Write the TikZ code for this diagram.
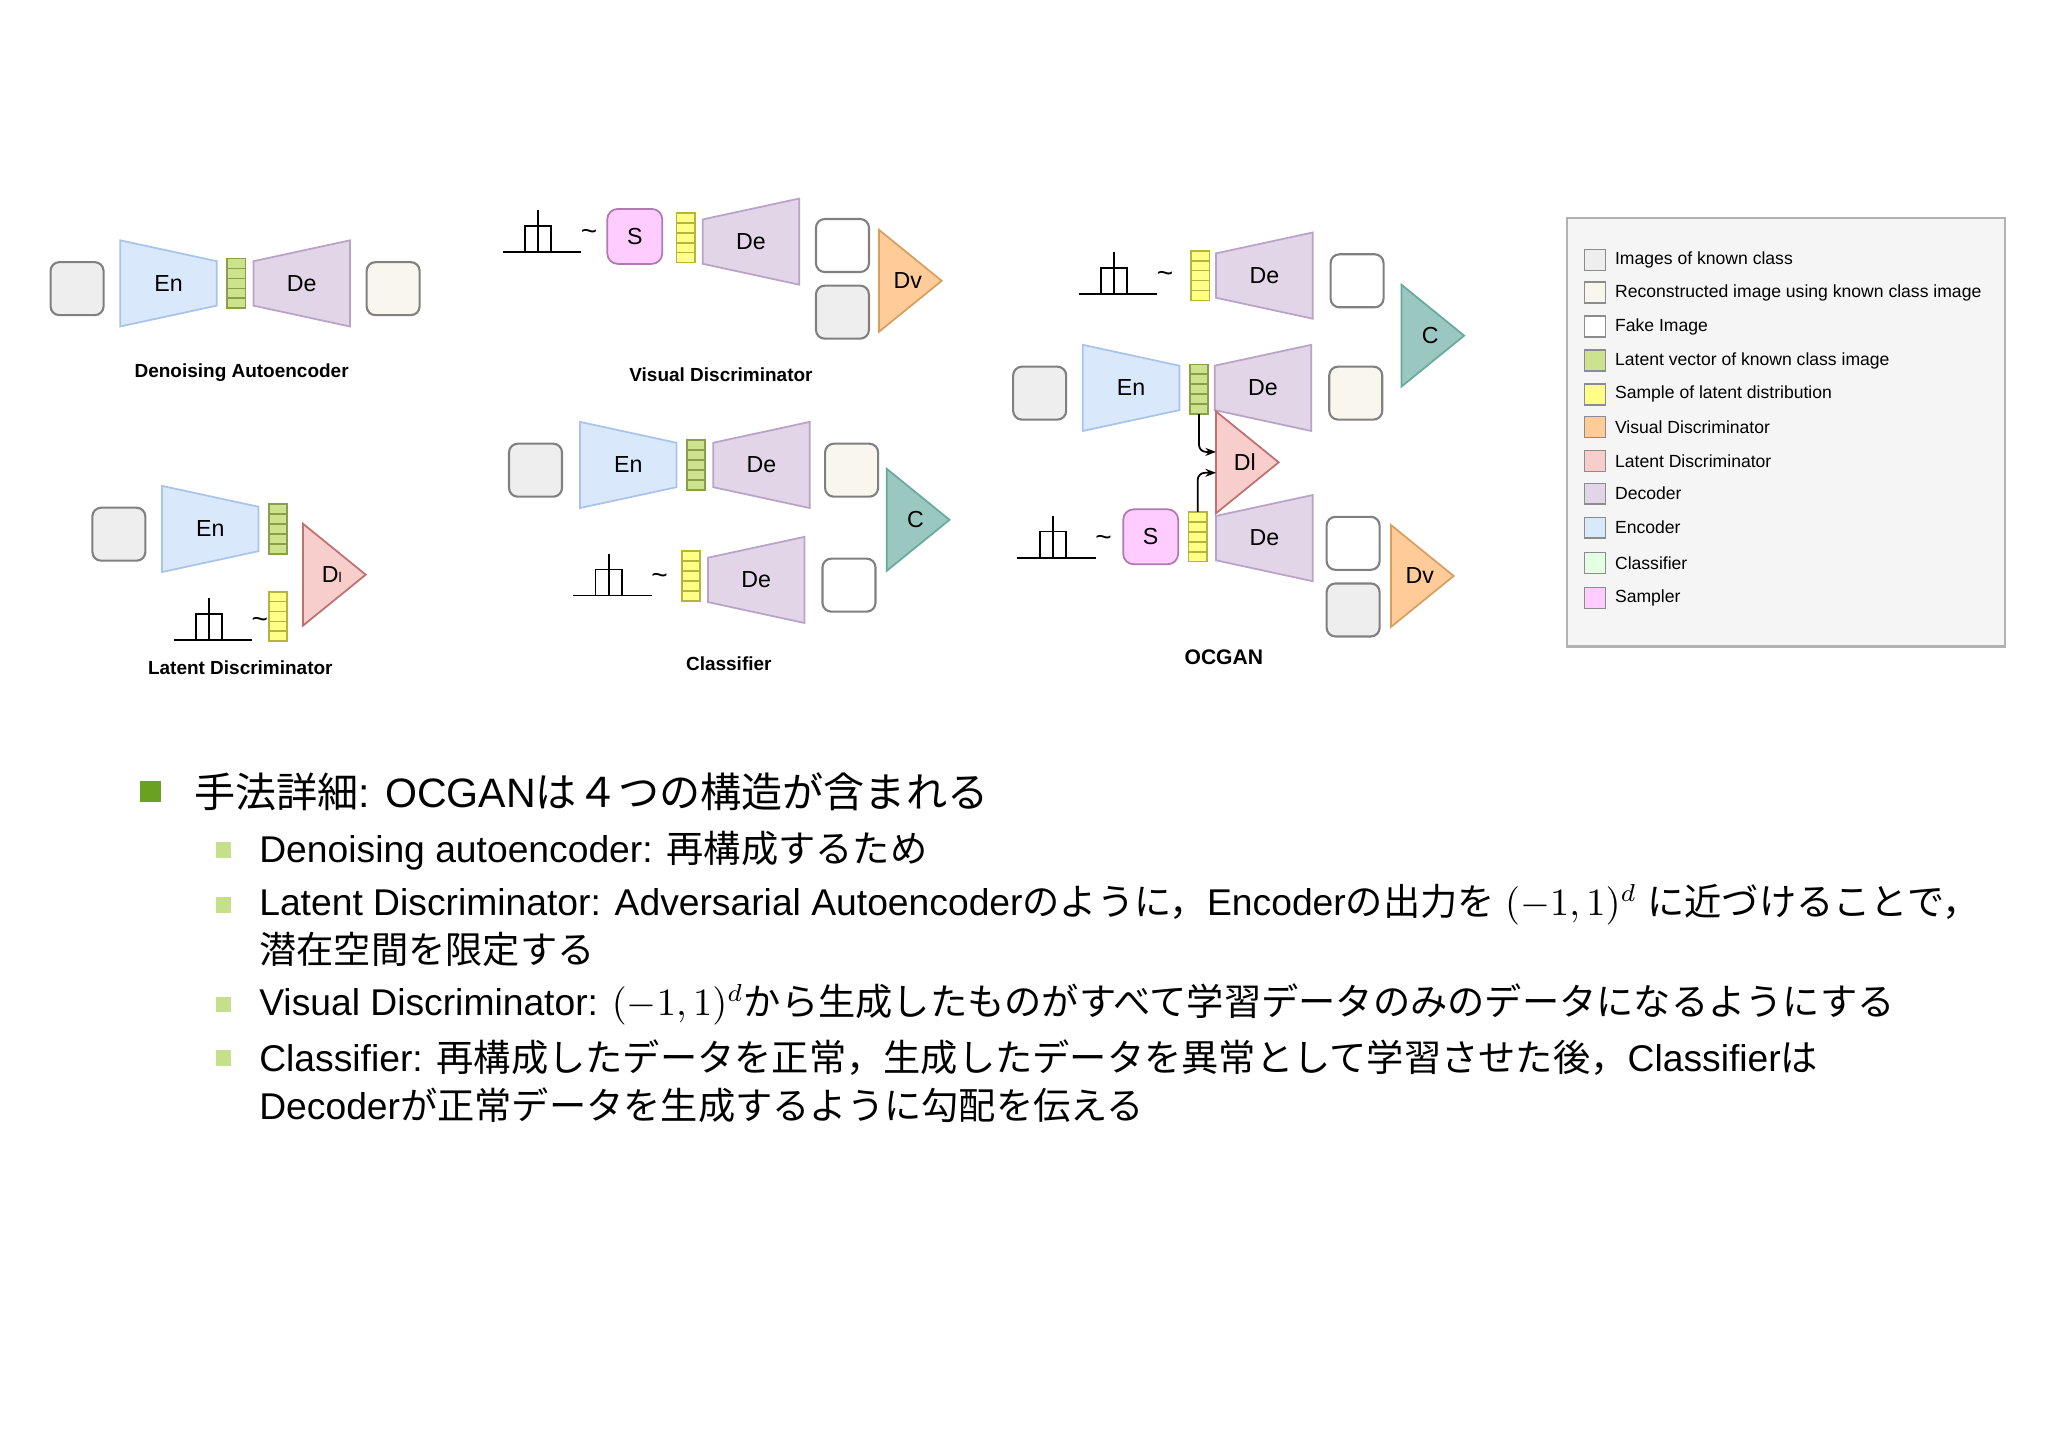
\documentclass[tikz,border=0pt]{standalone}
\usepackage{fontspec}
\setmainfont{Liberation Sans}
\newfontfamily\cjk{Noto Sans CJK JP}
\newcommand\ja[1]{{\cjk #1}}
\usetikzlibrary{arrows.meta}
\definecolor{enF}{HTML}{DAE8FC}\definecolor{enD}{HTML}{A9C4EB}
\definecolor{deF}{HTML}{E1D5E7}\definecolor{deD}{HTML}{B9A3C6}
\definecolor{grF}{HTML}{CDE28C}\definecolor{grD}{HTML}{8AA048}
\definecolor{yeF}{HTML}{FFFF88}\definecolor{yeD}{HTML}{B5B53C}
\definecolor{dvF}{HTML}{FFCC99}\definecolor{dvD}{HTML}{D8A060}
\definecolor{dlF}{HTML}{F8CECC}\definecolor{dlD}{HTML}{C07070}
\definecolor{cF}{HTML}{9AC7BF}\definecolor{cD}{HTML}{67AB9F}
\definecolor{sF}{HTML}{FFCCFF}\definecolor{sD}{HTML}{B07AB0}
\definecolor{gyF}{HTML}{EEEEEE}\definecolor{crF}{HTML}{F9F7ED}
\definecolor{bul}{HTML}{6AA121}\definecolor{bul2}{HTML}{C5E08A}
\tikzset{
 imgbox/.style={draw=black!50,line width=0.6pt,rounded corners=2.5pt,minimum size=0.53cm,inner sep=0pt},
 lbl/.style={font=\fontsize{6.6}{7}\selectfont,inner sep=0pt},
 capt/.style={font=\bfseries\fontsize{5.4}{6}\selectfont,inner sep=0pt},
 leg/.style={font=\fontsize{5}{6}\selectfont,anchor=west,inner sep=0pt},
 thn/.style={line width=0.5pt},
 bl/.style={font=\fontsize{10.6}{12}\selectfont,anchor=west,inner sep=0pt}
}
\newcommand\imgb[4]{\node[imgbox,fill=#4] (#1) at (#2,#3) {};}
\newcommand\enc[4]{\draw[fill=enF,draw=enD,thn] (#2-37,#3-33) -- (#2+37,#3-17) -- (#2+37,#3+17) -- (#2-37,#3+33) -- cycle; \node[lbl] (#1) at (#2,#3) {#4};}
\newcommand\dec[4]{\draw[fill=deF,draw=deD,thn] (#2-37,#3-17) -- (#2+37,#3-33) -- (#2+37,#3+33) -- (#2-37,#3+17) -- cycle; \node[lbl] (#1) at (#2,#3) {#4};}
\newcommand\vecb[5]{\draw[fill=#4,draw=#5,thn] (#2-7,#3-19) rectangle (#2+7,#3+19);
 \foreach \k in {1,...,4} \draw[draw=#5,thn] (#2-7,#3-19+\k*7.6) -- (#2+7,#3-19+\k*7.6);
 \coordinate (#1) at (#2,#3);}
\newcommand\tri[6]{\draw[fill=#5,draw=#6,thn] (#2,#3-39) -- (#2+48,#3) -- (#2,#3+39) -- cycle; \node[lbl] (#1) at (#2+22,#3) {#4};}
\newcommand\dist[4]{\draw[thn] (#2,#3) -- (#2+60,#3); \draw[thn] (#2+17,#3) rectangle (#2+37,#3-20); \draw[thn] (#2+27,#3) -- (#2+27,#3-32);
 \node[lbl,font=\fontsize{8}{8}\selectfont] (#1) at (#2+66,#3-13) {\textasciitilde};}
\newcommand\samp[3]{\node[draw=sD,fill=sF,thn,rounded corners=3pt,minimum size=0.55cm,inner sep=0pt,font=\fontsize{6.6}{7}\selectfont] (#1) at (#2,#3) {S};}
\begin{document}
\begin{tikzpicture}[x=0.01306cm,y=-0.01306cm]
\useasboundingbox (0,0) rectangle (1568,1108.7);
% Denoising AE
\imgb{a1}{59}{221}{gyF}\enc{a2}{129}{217}{En}\vecb{a3}{181}{217}{grF}{grD}\dec{a4}{231}{217}{De}\imgb{a5}{301}{221}{crF}
\node[capt] (ca) at (185,285) {Denoising Autoencoder};
% Latent Disc
\imgb{b1}{91}{409}{gyF}\enc{b2}{161}{405}{En}\vecb{b3}{213}{405}{grF}{grD}
\tri{b4}{232}{440}{D{\fontsize{4}{4}\selectfont l}}{dlF}{dlD}
\vecb{b5}{213}{472}{yeF}{yeD}\dist{b6}{133}{490}{}
\node[capt] (cb) at (184,511) {Latent Discriminator};
% Visual Disc
\dist{c1}{385}{193}{}\samp{c2}{486}{181}\vecb{c3}{525}{182}{yeF}{yeD}\dec{c4}{575}{185}{De}
\imgb{c5}{645}{188}{white}\imgb{c6}{645}{239}{gyF}\tri{c7}{673}{215}{Dv}{dvF}{dvD}
\node[capt] (cc) at (552,287) {Visual Discriminator};
% Classifier
\imgb{d1}{410}{360}{gyF}\enc{d2}{481}{356}{En}\vecb{d3}{533}{356}{grF}{grD}\dec{d4}{583}{356}{De}\imgb{d5}{652}{360}{crF}
\dist{d6}{439}{456}{}\vecb{d7}{529}{441}{yeF}{yeD}\dec{d8}{579}{444}{De}\imgb{d9}{650}{448}{white}
\tri{d10}{679}{398}{C}{cF}{cD}
\node[capt] (cd) at (558,508) {Classifier};
% OCGAN
\dist{e1}{826}{225}{}\vecb{e2}{919}{211}{yeF}{yeD}\dec{e3}{968}{211}{De}\imgb{e4}{1039}{215}{white}
\tri{e5}{1073}{257}{C}{cF}{cD}
\imgb{e6}{796}{301}{gyF}\enc{e7}{866}{297}{En}\vecb{e8}{918}{298}{grF}{grD}\dec{e9}{967}{297}{De}\imgb{e10}{1038}{301}{crF}
\tri{e11}{931}{354}{Dl}{dlF}{dlD}
\dist{e12}{779}{427}{}\samp{e13}{881}{411}\vecb{e14}{917}{411}{yeF}{yeD}\dec{e15}{968}{412}{De}
\imgb{e16}{1036}{416}{white}\imgb{e17}{1036}{467}{gyF}\tri{e18}{1065}{441}{Dv}{dvF}{dvD}
\coordinate (p1) at (931,346);\coordinate (p2) at (931,362);
\draw[thn,-{Stealth[length=3pt]},rounded corners=2pt] ([yshift=-19*0.01306cm]e8) |- (p1);
\draw[thn,-{Stealth[length=3pt]},rounded corners=2pt] ([yshift=19*0.01306cm]e14) |- (p2);
\node[capt,font=\bfseries\fontsize{6}{7}\selectfont] (ce) at (937,503) {OCGAN};
% Legend
\node[draw=black!30,fill=black!4,line width=0.6pt,minimum width=335*0.01306cm,minimum height=328*0.01306cm,inner sep=0pt] (lg) at (1367.5,331) {};
\foreach \y/\f/\t [count=\i] in {199/gyF/Images of known class,224/crF/Reconstructed image using known class image,250/white/Fake Image,276/grF/Latent vector of known class image,302/yeF/Sample of latent distribution,327/dvF/Visual Discriminator,353/dlF/Latent Discriminator,378/deF/Decoder,404/enF/Encoder,431/green!10/Classifier,458/sF/Sampler}{
 \draw[draw=black!45,fill=\f,line width=0.4pt] (1213,\y-8) rectangle (1229,\y+8);
 \node[leg] (l\i) at (1236,\y) {\t};}
% Bullets
\fill[bul] (107,598) rectangle (123,614);
\node[bl,font=\fontsize{11.7}{13}\selectfont] (h0) at (148,606) {\ja{手法詳細}: OCGAN\ja{は４つの構造が含まれる}};
\foreach \y in {651,693,769,810}{\fill[bul2] (165,\y-6) rectangle (177,\y+6);}
\node[bl] (t1) at (198,651) {Denoising autoencoder: \ja{再構成するため}};
\node[bl] (t2) at (198,693) {Latent Discriminator: Adversarial Autoencoder\ja{のように，}Encoder\ja{の出力を} $(-1,1)^d$ \ja{に近づけることで，}};
\node[bl] (t3) at (198,727) {\ja{潜在空間を限定する}};
\node[bl] (t4) at (198,769) {Visual Discriminator: $(-1,1)^d$\ja{から生成したものがすべて学習データのみのデータになるようにする}};
\node[bl] (t5) at (198,810) {Classifier: \ja{再構成したデータを正常，生成したデータを異常として学習させた後，}Classifier\ja{は}};
\node[bl] (t6) at (198,846) {Decoder\ja{が正常データを生成するように勾配を伝える}};
\end{tikzpicture}
\end{document}
